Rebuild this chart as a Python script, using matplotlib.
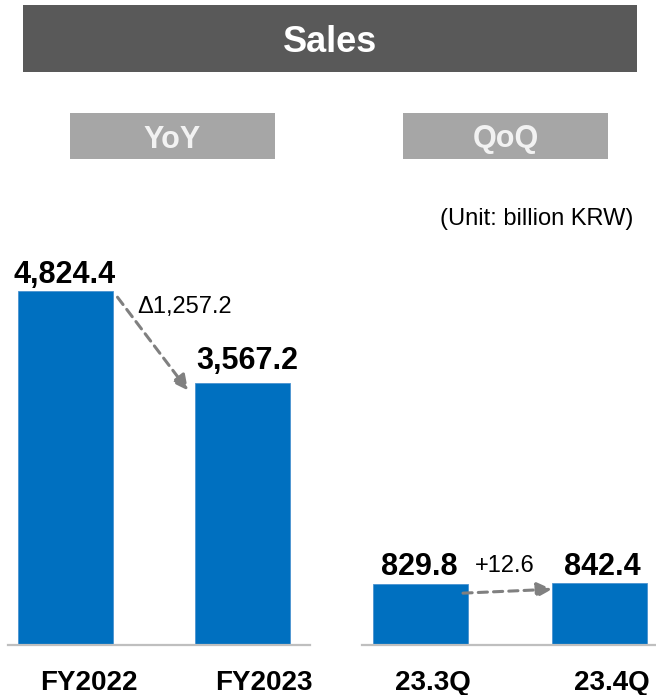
import matplotlib.pyplot as plt
from matplotlib.patches import Rectangle

plt.rcParams['font.family'] = ['Liberation Sans', 'DejaVu Sans']

# data (billion KRW)
yoy_labels = ['FY2022', 'FY2023']
yoy_values = [4824.4, 3567.2]
qoq_labels = ['23.3Q', '23.4Q']
qoq_values = [829.8, 842.4]

W, H = 656, 695
BLUE = '#0070c0'
GREY = '#808080'
YMAX = 6000
BASE = 645          # baseline, px from top
TOP = 205           # top of plot area, px from top
VA = 'center_baseline'


def fx(px):
    return px / W


def fy(py):
    return 1 - py / H


fig = plt.figure(figsize=(W / 100, H / 100), dpi=100)


def box(x0, y0, x1, y1, color, text, size, tcolor):
    fig.add_artist(Rectangle((fx(x0), fy(y1)), fx(x1) - fx(x0), fy(y0) - fy(y1),
                             transform=fig.transFigure, color=color, lw=0))
    fig.text(fx((x0 + x1) / 2), fy((y0 + y1) / 2), text, ha='center', va=VA,
             fontsize=size, fontweight='bold', color=tcolor)


box(23, 5, 637, 72, '#595959', 'Sales', 26, 'white')
box(70, 113, 275, 159, '#a6a6a6', 'YoY', 22, '#f2f2f2')
box(403, 113, 608, 159, '#a6a6a6', 'QoQ', 22, '#f2f2f2')
fig.text(fx(633), fy(217), '(Unit: billion KRW)', ha='right', va=VA, fontsize=17)


def panel(x0, x1, c0, c1, labels, values, lab_shift, val_shift, val_off):
    ax = fig.add_axes([fx(x0), fy(BASE), fx(x1) - fx(x0), (BASE - TOP) / H])
    step = c1 - c0                      # px between bar centres
    left = (x0 - c0) / step
    ax.set_xlim(left, left + (x1 - x0) / step)
    ax.set_ylim(0, YMAX)
    width = 95 / step
    xs = range(len(values))
    ax.bar(xs, values, width=width, color=BLUE, edgecolor='#4a92d0', linewidth=0.6)
    for s in ['top', 'right', 'left']:
        ax.spines[s].set_visible(False)
    ax.spines['bottom'].set_color('#bfbfbf')
    ax.spines['bottom'].set_linewidth(1.6)
    ax.set_xticks([])
    ax.set_yticks([])
    ax.patch.set_alpha(0)
    for i, (lab, v) in enumerate(zip(labels, values)):
        ax.annotate(lab, (i + lab_shift[i] / step, 0), xytext=(0, -35),
                    textcoords='offset pixels', ha='center', va=VA,
                    fontsize=20, fontweight='bold')
        ax.annotate(f'{v:,.1f}', (i + val_shift[i] / step, v), xytext=(0, val_off[i]),
                    textcoords='offset pixels', ha='center', va=VA,
                    fontsize=22, fontweight='bold')
    ppx = YMAX / (BASE - TOP)          # data units per px vertically
    return ax, step, width, ppx


def arrow(ax, start, end):
    ax.annotate('', xy=end, xytext=start,
                arrowprops=dict(arrowstyle='-|>,head_length=0.9,head_width=0.45',
                                color=GREY, lw=2.2, linestyle=(0, (3, 2)),
                                shrinkA=0, shrinkB=0))


# YoY
ax1, st1, w1, ppx = panel(8, 310, 65, 242.5, yoy_labels, yoy_values,
                          [24, 21], [0, 4.5], [20, 26])
d1 = yoy_values[1] - yoy_values[0]
arrow(ax1, (w1 / 2 + 5 / st1, yoy_values[0] - 6 * ppx),
      (1 - w1 / 2 - 7 / st1, yoy_values[1] - 7 * ppx))
ax1.annotate(f'\u0394{abs(d1):,.1f}', (w1 / 2 + 25 / st1, yoy_values[0]), xytext=(0, -13),
             textcoords='offset pixels', ha='left', va=VA, fontsize=17)

# QoQ
ax2, st2, w2, _ = panel(362, 656, 420.5, 599.5, qoq_labels, qoq_values,
                        [12, 12], [-1.5, 3], [21, 20])
d2 = qoq_values[1] - qoq_values[0]
arrow(ax2, (w2 / 2 - 5 / st2, qoq_values[0] - 9 * ppx),
      (1 - w2 / 2, qoq_values[1] - 6 * ppx))
ax2.annotate(f'+{d2:,.1f}', (w2 / 2 + 7 / st2, qoq_values[0]), xytext=(0, 21),
             textcoords='offset pixels', ha='left', va=VA, fontsize=17)

fig.savefig('out.png', dpi=100)
